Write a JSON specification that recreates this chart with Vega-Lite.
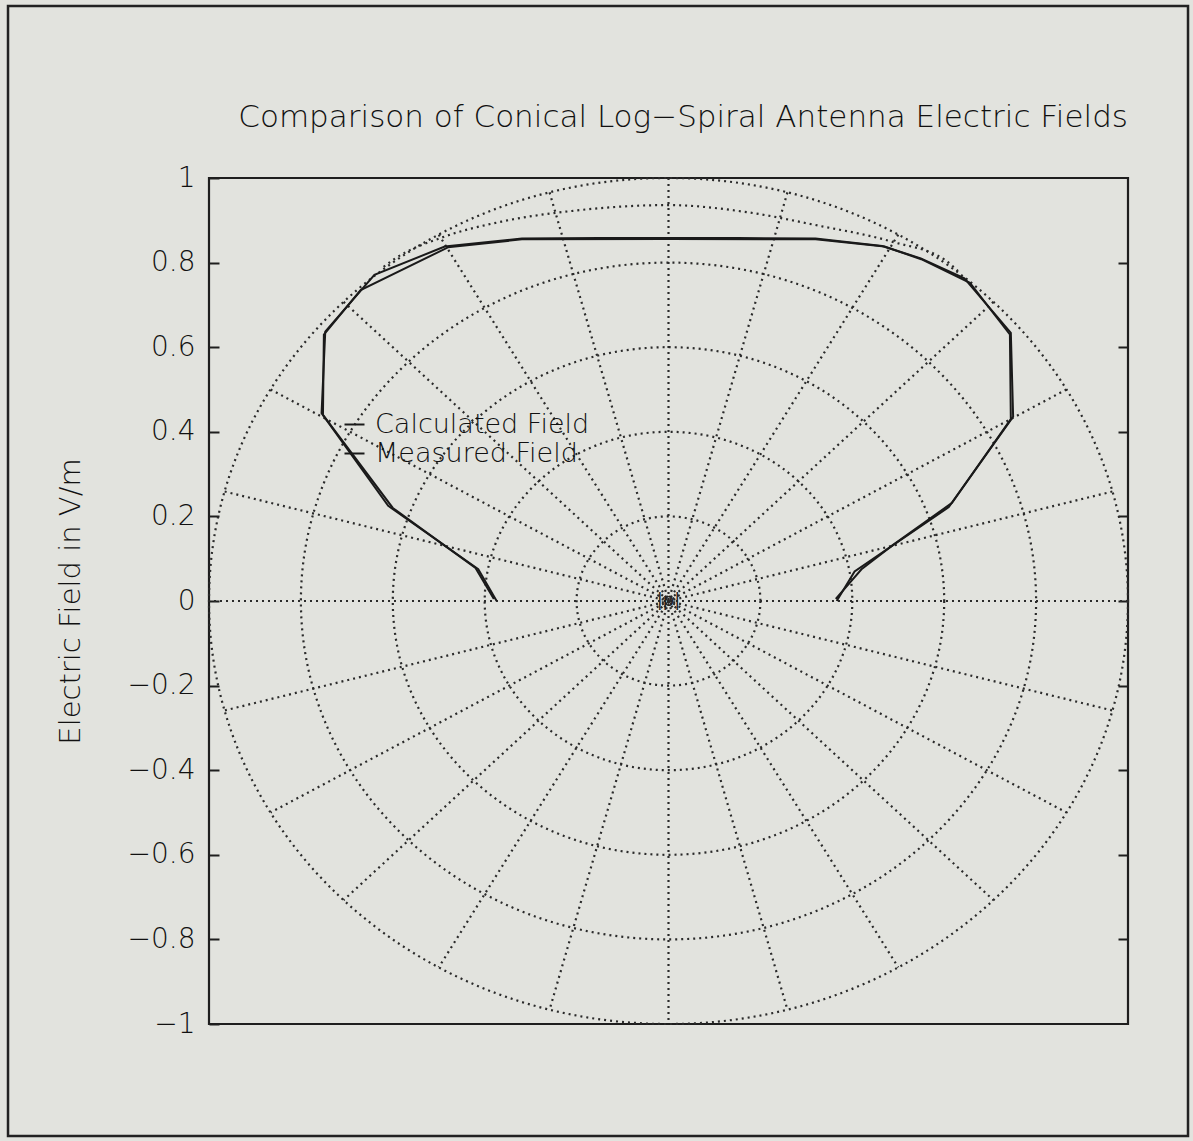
{
  "$schema": "https://vega.github.io/schema/vega-lite/v6.json",
  "width": 919,
  "height": 846,
  "autosize": {"type": "none"},
  "padding": {"left": 209, "top": 178, "right": 65, "bottom": 117},
  "background": "#e2e3de",
  "config": {
    "view": {"stroke": "#1e1e1e", "strokeWidth": 2.2},
    "font": "DejaVu Sans"
  },
  "title": {
    "text": "Comparison of Conical Log\u2212Spiral Antenna Electric Fields",
    "anchor": "end",
    "frame": "group",
    "font": "DejaVu Sans",
    "fontSize": 31,
    "fontWeight": 200,
    "color": "#111111",
    "offset": 0,
    "baseline": "alphabetic",
    "dy": 153
  },
  "datasets": {
    "fields": [
      {"series": "Calculated Field", "i": 1, "x": 0.366, "y": 0.0},
      {"series": "Calculated Field", "i": 2, "x": 0.405, "y": 0.07},
      {"series": "Calculated Field", "i": 3, "x": 0.61, "y": 0.222},
      {"series": "Calculated Field", "i": 4, "x": 0.75, "y": 0.436},
      {"series": "Calculated Field", "i": 5, "x": 0.745, "y": 0.634},
      {"series": "Calculated Field", "i": 6, "x": 0.644, "y": 0.763},
      {"series": "Calculated Field", "i": 7, "x": 0.549, "y": 0.81},
      {"series": "Calculated Field", "i": 8, "x": 0.465, "y": 0.839},
      {"series": "Calculated Field", "i": 9, "x": 0.32, "y": 0.857},
      {"series": "Calculated Field", "i": 10, "x": 0.15, "y": 0.858},
      {"series": "Calculated Field", "i": 11, "x": 0.0, "y": 0.858},
      {"series": "Calculated Field", "i": 12, "x": -0.15, "y": 0.858},
      {"series": "Calculated Field", "i": 13, "x": -0.319, "y": 0.857},
      {"series": "Calculated Field", "i": 14, "x": -0.487, "y": 0.838},
      {"series": "Calculated Field", "i": 15, "x": -0.64, "y": 0.771},
      {"series": "Calculated Field", "i": 16, "x": -0.747, "y": 0.637},
      {"series": "Calculated Field", "i": 17, "x": -0.755, "y": 0.444},
      {"series": "Calculated Field", "i": 18, "x": -0.61, "y": 0.225},
      {"series": "Calculated Field", "i": 19, "x": -0.414, "y": 0.075},
      {"series": "Calculated Field", "i": 20, "x": -0.374, "y": 0.0},
      {"series": "Measured Field", "i": 1, "x": 0.364, "y": 0.005},
      {"series": "Measured Field", "i": 2, "x": 0.42, "y": 0.075},
      {"series": "Measured Field", "i": 3, "x": 0.488, "y": 0.132},
      {"series": "Measured Field", "i": 4, "x": 0.617, "y": 0.232},
      {"series": "Measured Field", "i": 5, "x": 0.745, "y": 0.43},
      {"series": "Measured Field", "i": 6, "x": 0.743, "y": 0.63},
      {"series": "Measured Field", "i": 7, "x": 0.656, "y": 0.752},
      {"series": "Measured Field", "i": 8, "x": 0.55, "y": 0.808},
      {"series": "Measured Field", "i": 9, "x": 0.47, "y": 0.838},
      {"series": "Measured Field", "i": 10, "x": 0.32, "y": 0.855},
      {"series": "Measured Field", "i": 11, "x": 0.0, "y": 0.856},
      {"series": "Measured Field", "i": 12, "x": -0.319, "y": 0.855},
      {"series": "Measured Field", "i": 13, "x": -0.48, "y": 0.836},
      {"series": "Measured Field", "i": 14, "x": -0.67, "y": 0.735},
      {"series": "Measured Field", "i": 15, "x": -0.75, "y": 0.63},
      {"series": "Measured Field", "i": 16, "x": -0.752, "y": 0.44},
      {"series": "Measured Field", "i": 17, "x": -0.6, "y": 0.22},
      {"series": "Measured Field", "i": 18, "x": -0.42, "y": 0.078},
      {"series": "Measured Field", "i": 19, "x": -0.38, "y": 0.005}
    ],
    "rings": [
      {"cx": 0, "cy": 0, "r": 0.2},
      {"cx": 0, "cy": 0, "r": 0.4},
      {"cx": 0, "cy": 0, "r": 0.6},
      {"cx": 0, "cy": 0, "r": 0.8},
      {"cx": 0, "cy": 0, "r": 1.0}
    ],
    "spokes": [
      {"deg": 0, "x": 1.0, "y": 0.0, "x2": -1.0, "y2": 0.0},
      {"deg": 15, "x": 0.9659, "y": 0.2588, "x2": -0.9659, "y2": -0.2588},
      {"deg": 30, "x": 0.866, "y": 0.5, "x2": -0.866, "y2": -0.5},
      {"deg": 45, "x": 0.7071, "y": 0.7071, "x2": -0.7071, "y2": -0.7071},
      {"deg": 60, "x": 0.5, "y": 0.866, "x2": -0.5, "y2": -0.866},
      {"deg": 75, "x": 0.2588, "y": 0.9659, "x2": -0.2588, "y2": -0.9659},
      {"deg": 90, "x": 0.0, "y": 1.0, "x2": 0.0, "y2": -1.0},
      {"deg": 105, "x": -0.2588, "y": 0.9659, "x2": 0.2588, "y2": -0.9659},
      {"deg": 120, "x": -0.5, "y": 0.866, "x2": 0.5, "y2": -0.866},
      {"deg": 135, "x": -0.7071, "y": 0.7071, "x2": 0.7071, "y2": -0.7071},
      {"deg": 150, "x": -0.866, "y": 0.5, "x2": 0.866, "y2": -0.5},
      {"deg": 165, "x": -0.9659, "y": 0.2588, "x2": 0.9659, "y2": -0.2588}
    ],
    "toparc": [
      {"i": 1, "x": -0.62, "y": 0.79},
      {"i": 2, "x": -0.593, "y": 0.811},
      {"i": 3, "x": -0.494, "y": 0.859},
      {"i": 4, "x": -0.363, "y": 0.897},
      {"i": 5, "x": -0.211, "y": 0.922},
      {"i": 6, "x": 0.0, "y": 0.936},
      {"i": 7, "x": 0.166, "y": 0.92},
      {"i": 8, "x": 0.319, "y": 0.889},
      {"i": 9, "x": 0.488, "y": 0.849},
      {"i": 10, "x": 0.602, "y": 0.806},
      {"i": 11, "x": 0.63, "y": 0.78}
    ]
  },
  "layer": [
    {
      "data": {"values": [{"frame": "page"}]},
      "mark": {"type": "rect", "fill": null, "stroke": "#222222", "strokeWidth": 2.5},
      "encoding": {
        "x": {"datum": -1.4374, "type": "quantitative", "scale": {"domain": [-1, 1], "nice": false, "zero": false}, "axis": null},
        "x2": {"datum": 1.1306},
        "y": {"datum": 1.4066, "type": "quantitative", "scale": {"domain": [-1, 1], "nice": false, "zero": false}, "axis": null},
        "y2": {"datum": -1.2648}
      }
    },
    {
      "data": {"name": "rings"},
      "mark": {
        "type": "point",
        "shape": "M1,0C1,0.5085,0.5523,0.9206,0,0.9206C-0.5523,0.9206,-1,0.5085,-1,0C-1,-0.5085,-0.5523,-0.9206,0,-0.9206C0.5523,-0.9206,1,-0.5085,1,0Z",
        "filled": false,
        "stroke": "#2a2a2a",
        "strokeWidth": 2.2,
        "strokeDash": [2, 4],
        "opacity": 1
      },
      "encoding": {
        "x": {"field": "cx", "type": "quantitative", "scale": {"domain": [-1, 1], "nice": false, "zero": false}, "axis": null},
        "y": {"field": "cy", "type": "quantitative", "scale": {"domain": [-1, 1], "nice": false, "zero": false}, "axis": null},
        "size": {"field": "r", "type": "quantitative", "scale": {"type": "pow", "exponent": 2, "domain": [0, 1], "range": [0, 844561]}, "legend": null}
      }
    },
    {
      "data": {"name": "spokes"},
      "mark": {"type": "rule", "stroke": "#2a2a2a", "strokeWidth": 2.2, "strokeDash": [2, 4]},
      "encoding": {
        "x": {"field": "x", "type": "quantitative", "scale": {"domain": [-1, 1], "nice": false, "zero": false}, "axis": null},
        "y": {
          "field": "y", "type": "quantitative",
          "scale": {"domain": [-1, 1], "nice": false, "zero": false},
          "axis": {"orient": "right", "values": [-0.8, -0.6, -0.4, -0.2, 0, 0.2, 0.4, 0.6, 0.8], "labels": false, "domain": false, "grid": false, "title": null, "tickSize": -10, "tickColor": "#1e1e1e", "tickWidth": 2}
        },
        "x2": {"field": "x2"},
        "y2": {"field": "y2"}
      }
    },
    {
      "data": {"name": "toparc"},
      "mark": {"type": "line", "stroke": "#2a2a2a", "strokeWidth": 2.2, "strokeDash": [2, 4], "interpolate": "monotone"},
      "encoding": {
        "x": {"field": "x", "type": "quantitative", "scale": {"domain": [-1, 1], "nice": false, "zero": false}, "axis": null},
        "y": {"field": "y", "type": "quantitative", "scale": {"domain": [-1, 1], "nice": false, "zero": false}, "axis": null},
        "order": {"field": "i"}
      }
    },
    {
      "data": {"name": "fields"},
      "mark": {"type": "line", "strokeWidth": 2},
      "encoding": {
        "x": {"field": "x", "type": "quantitative", "scale": {"domain": [-1, 1], "nice": false, "zero": false}, "axis": null},
        "y": {
          "field": "y", "type": "quantitative",
          "scale": {"domain": [-1, 1], "nice": false, "zero": false},
          "axis": {
            "orient": "left",
            "values": [-1, -0.8, -0.6, -0.4, -0.2, 0, 0.2, 0.4, 0.6, 0.8, 1],
            "format": "~g",
            "domain": false,
            "grid": false,
            "tickSize": -10,
            "tickWidth": 2,
            "tickColor": "#1e1e1e",
            "labelPadding": 24,
            "labelFont": "DejaVu Sans",
            "labelFontSize": 28,
            "labelFontWeight": 200,
            "labelColor": "#111111",
            "title": "Electric Field in V/m",
            "titleFont": "DejaVu Sans",
            "titleFontSize": 29,
            "titleFontWeight": 200,
            "titleColor": "#111111",
            "titlePadding": 42
          }
        },
        "color": {
          "field": "series", "type": "nominal",
          "scale": {"domain": ["Calculated Field", "Measured Field"], "range": ["#1a1a1a", "#1a1a1a"]},
          "legend": {
            "orient": "none",
            "legendX": 132,
            "legendY": 233,
            "title": null,
            "symbolType": "stroke",
            "symbolSize": 400,
            "symbolStrokeWidth": 2,
            "labelFont": "DejaVu Sans",
            "labelFontSize": 27,
            "labelFontWeight": 200,
            "labelColor": "#111111",
            "labelOffset": 7,
            "labelLimit": 500,
            "rowPadding": 1,
            "padding": 0
          }
        },
        "order": {"field": "i"}
      }
    },
    {
      "data": {"values": [{"label": "|p|", "x": 0, "y": 0}]},
      "mark": {"type": "text", "fontSize": 18, "font": "DejaVu Sans", "color": "#222222"},
      "encoding": {
        "x": {"field": "x", "type": "quantitative", "scale": {"domain": [-1, 1], "nice": false, "zero": false}, "axis": null},
        "y": {"field": "y", "type": "quantitative", "scale": {"domain": [-1, 1], "nice": false, "zero": false}, "axis": null},
        "text": {"field": "label"}
      }
    }
  ],
  "resolve": {"axis": {"y": "independent"}}
}
